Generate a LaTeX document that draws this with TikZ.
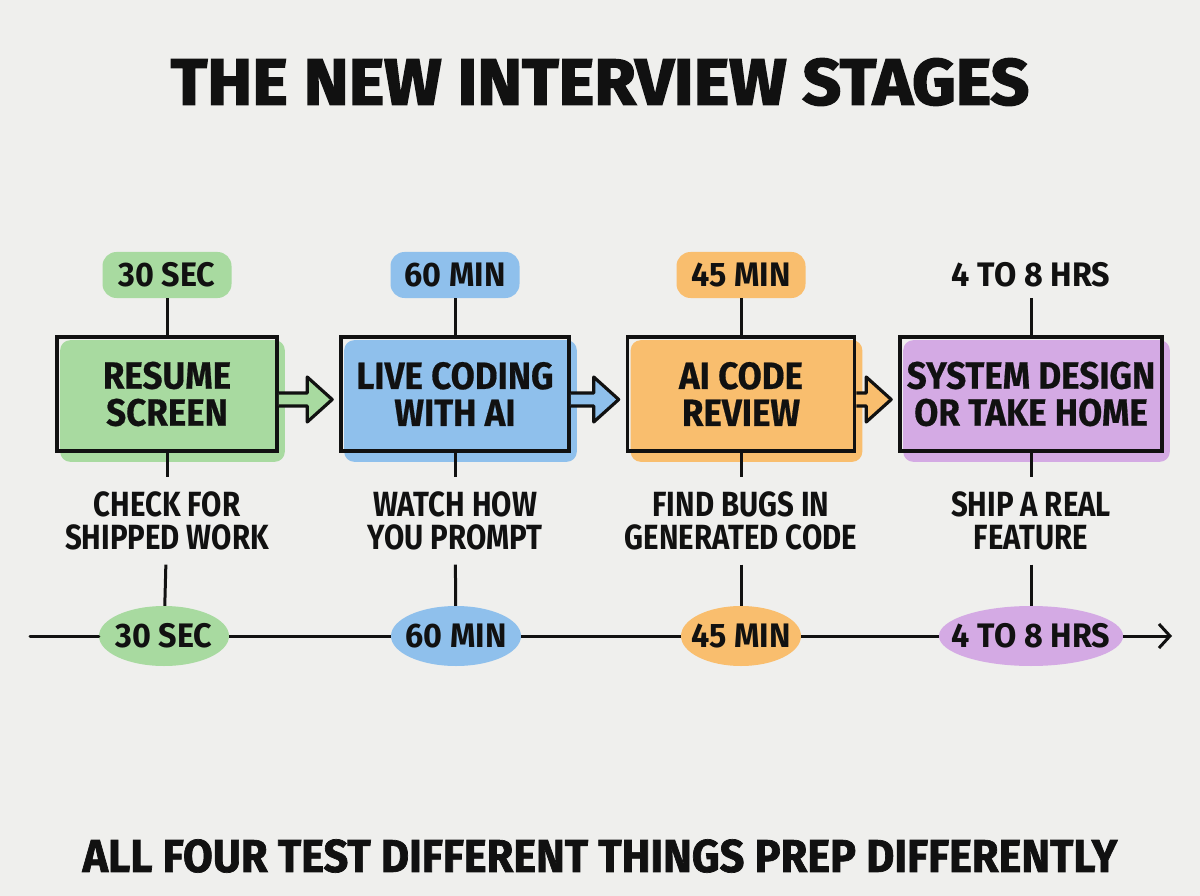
\documentclass[tikz,border=0pt]{standalone}
\usepackage{fontspec}
\setmainfont{Fira Sans}[FakeStretch=0.84]
\newfontfamily\boxfont{Fira Sans}[FakeStretch=0.92, FakeBold=0.5]
\newfontfamily\tagfont{Fira Sans}[FakeStretch=0.95]
\newfontfamily\ttlfont{Fira Sans}[FakeStretch=1.04, FakeBold=2.5]
\newfontfamily\ftfont{Fira Sans}[FakeStretch=0.94, FakeBold=1.5]
\usetikzlibrary{shapes.geometric,calc,arrows.meta}
\pgfdeclarelayer{background}
\pgfsetlayers{background,main}
\definecolor{bg}{HTML}{EFEFED}
\definecolor{ink}{HTML}{111111}
\definecolor{cgreen}{HTML}{A8DAA0}
\definecolor{cblue}{HTML}{8FC0EC}
\definecolor{corange}{HTML}{F9BE6E}
\definecolor{cpurple}{HTML}{D4AAE4}
\begin{document}
\begin{tikzpicture}[x=1pt,y=-1pt,
  title/.style={font=\ttlfont\bfseries\fontsize{65}{65}\selectfont, text=ink},
  footer/.style={font=\ftfont\bfseries\fontsize{46}{46}\selectfont, text=ink},
  stage/.style={draw=ink, line width=3.6pt, inner sep=0pt, align=center, text=ink,
    font=\boxfont\bfseries\fontsize{38}{37}\selectfont, minimum height=114pt},
  shade/.style={fill=#1, rounded corners=10pt},
  tag/.style={fill=#1, rounded corners=14pt, minimum width=129pt, minimum height=46pt,
    inner sep=0pt, text=ink, font=\tagfont\bfseries\fontsize{34}{34}\selectfont},
  desc/.style={inner sep=0pt, minimum height=87pt, align=center, text=ink,
    font=\bfseries\fontsize{35}{33}\selectfont},
  pill/.style={ellipse, fill=#1, inner xsep=-14pt, inner ysep=0pt, minimum height=60pt, text=ink,
    font=\tagfont\bfseries\fontsize{34}{34}\selectfont},
  conn/.style={draw=ink, line width=3pt},
  barrow/.style={draw=ink, fill=#1, line width=3.2pt, line join=round}
]
\useasboundingbox (0,0) rectangle (1200,896);

\node[title] (ttl) at (600,82) {THE NEW INTERVIEW STAGES};

% timing tags
\node[tag=cgreen] (t1) at (167,275) {30 SEC};
\node[tag=cblue] (t2) at (455,275) {60 MIN};
\node[tag=corange] (t3) at (741,275) {45 MIN};
\node[tag=bg, minimum width=170pt] (t4) at (1031,275) {4 TO 8 HRS};

% stage boxes
\node[stage, minimum width=220pt] (s1) at (167,394) {RESUME\\SCREEN};
\node[stage, minimum width=228pt] (s2) at (455,394) {LIVE CODING\\WITH AI};
\node[stage, minimum width=227pt] (s3) at (741,394) {AI CODE\\REVIEW};
\node[stage, minimum width=262pt] (s4) at (1031,394) {SYSTEM DESIGN\\OR TAKE HOME};

\begin{pgfonlayer}{background}
  \fill[bg] (0,0) rectangle (1200,896);
  \path[shade=cgreen] ($(s1.north west)+(5,5)$) rectangle ($(s1.south east)+(6,9)$);
  \path[shade=cblue] ($(s2.north west)+(5,5)$) rectangle ($(s2.south east)+(6,9)$);
  \path[shade=corange] ($(s3.north west)+(5,5)$) rectangle ($(s3.south east)+(6,9)$);
  \path[shade=cpurple] ($(s4.north west)+(5,5)$) rectangle ($(s4.south east)+(6,9)$);
\end{pgfonlayer}

% block arrows
\path[barrow=cgreen] let \p1=(s1.east), \p2=(s2.west) in
  (\x1,\y1-12pt) -- (\x2-32pt,\y1-12pt) -- (\x2-32pt,\y1-28pt) -- (\x2-7pt,\y1-5.5pt)
  -- (\x2-32pt,\y1+17pt) -- (\x2-32pt,\y1+1pt) -- (\x1,\y1+1pt);
\path[barrow=cblue] let \p1=(s2.east), \p2=(s3.west) in
  (\x1,\y1-12pt) -- (\x2-32pt,\y1-12pt) -- (\x2-32pt,\y1-28pt) -- (\x2-7pt,\y1-5.5pt)
  -- (\x2-32pt,\y1+17pt) -- (\x2-32pt,\y1+1pt) -- (\x1,\y1+1pt);
\path[barrow=corange] let \p1=(s3.east), \p2=(s4.west) in
  (\x1,\y1-12pt) -- (\x2-32pt,\y1-12pt) -- (\x2-32pt,\y1-28pt) -- (\x2-7pt,\y1-5.5pt)
  -- (\x2-32pt,\y1+17pt) -- (\x2-32pt,\y1+1pt) -- (\x1,\y1+1pt);

% descriptions
\node[desc] (d1) at (167,521) {CHECK FOR\\SHIPPED WORK};
\node[desc] (d2) at (455,521) {WATCH HOW\\YOU PROMPT};
\node[desc] (d3) at (741,521) {FIND BUGS IN\\GENERATED CODE};
\node[desc] (d4) at (1031,521) {SHIP A REAL\\FEATURE};

% timeline
\coordinate (tl0) at (30,636);
\coordinate (tl1) at (1172,636);
\node[pill=cgreen, minimum width=130pt] (e1) at (164,636) {30 SEC};
\node[pill=cblue, minimum width=130pt] (e2) at (456,636) {60 MIN};
\node[pill=corange, minimum width=120pt] (e3) at (741,636) {45 MIN};
\node[pill=cpurple, minimum width=182pt] (e4) at (1031,636) {4 TO 8 HRS};

% vertical connectors
\foreach \i in {1,2,3,4}{
  \draw[conn] (t\i) -- (s\i);
  \draw[conn] (s\i) -- (d\i);
  \draw[conn] (d\i) -- (e\i);
}
\draw[conn, line cap=round] (tl0) -- (e1);
\draw[conn] (e1) -- (e2);
\draw[conn] (e2) -- (e3);
\draw[conn] (e3) -- (e4);
\draw[conn, -{Straight Barb[length=11pt,width=24pt,line width=3pt]}] (e4) -- (tl1);

\node[footer] (ft) at (600,856) {ALL FOUR TEST DIFFERENT THINGS PREP DIFFERENTLY};
\end{tikzpicture}
\end{document}
